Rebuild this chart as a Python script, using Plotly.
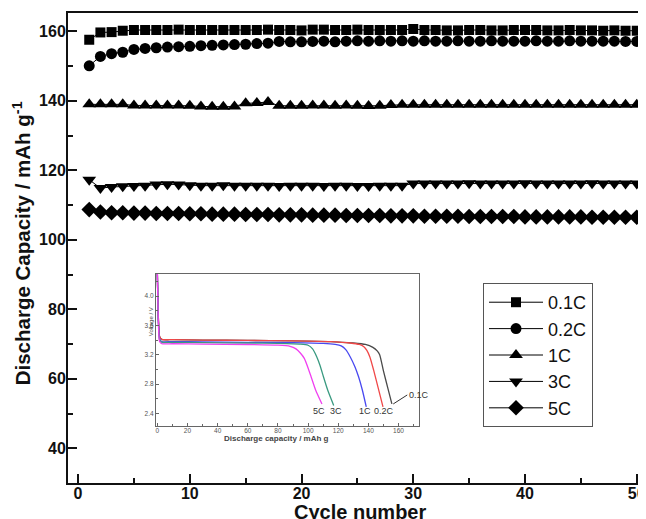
import plotly.graph_objects as go

# ---------------- main data ----------------
cycles = list(range(1, 51))
rate_labels = ["0.1C", "0.2C", "1C", "3C", "5C"]
cap_01C = [157.6, 159.7, 159.8, 160.2, 160.4, 160.4, 160.4, 160.4, 160.5, 160.4,
           160.4, 160.4, 160.4, 160.4, 160.4, 160.4, 160.5, 160.4, 160.4, 160.3,
           160.5, 160.5, 160.4, 160.4, 160.5, 160.4, 160.4, 160.4, 160.4, 160.7,
           160.4, 160.4, 160.3, 160.3, 160.4, 160.4, 160.3, 160.3, 160.4, 160.4,
           160.4, 160.3, 160.3, 160.4, 160.3, 160.3, 160.2, 160.3, 160.2, 160.2]
cap_02C = [150.1, 152.8, 153.6, 154.0, 154.8, 155.1, 155.3, 155.5, 155.6, 155.7,
           155.9, 156.0, 156.1, 156.2, 156.3, 156.5, 156.6, 157.1, 157.0, 157.0,
           157.1, 157.2, 157.0, 157.2, 157.3, 157.2, 157.3, 157.2, 157.3, 157.2,
           157.3, 157.2, 157.2, 157.3, 157.2, 157.2, 157.3, 157.2, 157.2, 157.2,
           157.3, 157.2, 157.2, 157.3, 157.2, 157.2, 157.2, 157.2, 157.1, 157.1]
cap_1C = [139.0, 139.0, 139.0, 139.0, 138.7, 138.7, 138.7, 138.7, 138.7, 138.6,
          138.4, 138.3, 138.3, 138.4, 139.3, 139.4, 139.7, 138.6, 138.6, 138.6,
          138.7, 138.7, 138.6, 138.7, 138.6, 138.5, 138.6, 138.8, 138.9, 138.9,
          138.9, 138.9, 138.9, 138.9, 138.9, 138.9, 138.9, 138.9, 138.9, 138.9,
          138.9, 138.9, 138.9, 138.9, 138.9, 138.9, 138.9, 138.9, 138.9, 138.9]
cap_3C = [117.3, 114.9, 115.2, 115.4, 115.5, 115.6, 115.9, 116.0, 115.9, 115.7,
          115.6, 115.6, 115.7, 115.6, 115.6, 115.6, 115.6, 115.5, 115.6, 115.6,
          115.6, 115.5, 115.6, 115.6, 115.5, 115.5, 115.6, 115.6, 115.6, 116.2,
          116.2, 116.2, 116.2, 116.2, 116.3, 116.2, 116.2, 116.2, 116.2, 116.3,
          116.2, 116.2, 116.2, 116.2, 116.2, 116.3, 116.2, 116.2, 116.2, 116.2]
cap_5C = [108.7, 108.0, 107.8, 107.8, 107.7, 107.7, 107.6, 107.6, 107.6, 107.5,
          107.5, 107.4, 107.4, 107.4, 107.3, 107.3, 107.3, 107.2, 107.2, 107.2,
          107.1, 107.1, 107.1, 107.0, 107.0, 107.0, 107.0, 106.9, 106.9, 106.9,
          106.8, 106.8, 106.8, 106.8, 106.7, 106.7, 106.7, 106.7, 106.7, 106.6,
          106.6, 106.6, 106.6, 106.6, 106.6, 106.5, 106.5, 106.5, 106.5, 106.5]
main_series = [cap_01C, cap_02C, cap_1C, cap_3C, cap_5C]
symbols = ["square", "circle", "triangle-up", "triangle-down", "diamond"]
marker_sizes = [10, 11, 12, 12, 12]

x_ticks = [0, 10, 20, 30, 40, 50]
y_ticks = [40, 60, 80, 100, 120, 140, 160]

# ---------------- inset data ----------------
inset_caps = {
    "0.1C": [0, 0.3, 0.8, 1.5, 3, 10, 30, 60, 90, 115, 130, 138, 143, 146, 147.5, 150, 153, 155.6],
    "0.2C": [0, 0.3, 0.8, 1.5, 3, 10, 30, 60, 90, 115, 128, 134, 137, 139, 141, 143.5, 146.5, 149.7],
    "1C":   [0, 0.3, 0.8, 1.5, 3, 10, 30, 60, 90, 110, 118, 122, 125, 128, 131, 133.5, 136, 138.6],
    "3C":   [0, 0.3, 0.8, 1.5, 3, 10, 30, 60, 80, 95, 100, 103, 105.8, 108, 110.2, 113, 117],
    "5C":   [0, 0.3, 0.8, 1.5, 3, 10, 30, 60, 80, 88, 92, 95, 97.5, 100, 102, 105, 109.2],
}
inset_volts = {
    "0.1C": [4.32, 4.0, 3.65, 3.45, 3.41, 3.405, 3.40, 3.395, 3.39, 3.38, 3.36, 3.34, 3.30, 3.25, 3.20, 2.98, 2.74, 2.53],
    "0.2C": [4.32, 4.0, 3.65, 3.45, 3.41, 3.405, 3.40, 3.395, 3.39, 3.38, 3.36, 3.34, 3.31, 3.26, 3.17, 2.99, 2.75, 2.49],
    "1C":   [4.32, 4.0, 3.62, 3.42, 3.38, 3.38, 3.375, 3.37, 3.365, 3.355, 3.34, 3.32, 3.27, 3.17, 3.04, 2.9, 2.72, 2.49],
    "3C":   [4.32, 4.0, 3.6, 3.4, 3.37, 3.37, 3.365, 3.36, 3.355, 3.345, 3.33, 3.28, 3.17, 3.05, 2.9, 2.72, 2.51],
    "5C":   [4.32, 4.0, 3.58, 3.38, 3.35, 3.35, 3.345, 3.34, 3.33, 3.315, 3.28, 3.22, 3.15, 3.02, 2.9, 2.72, 2.53],
}
inset_colors = {"0.1C": "#4a4a4a", "0.2C": "#f04848", "1C": "#4848f0", "3C": "#3a9a80", "5C": "#f040f0"}
inset_label_pos = {"5C": (107.5, 2.44), "3C": (118.5, 2.44), "1C": (137.5, 2.44), "0.2C": (150.5, 2.44)}
inset_x_ticks = [0, 20, 40, 60, 80, 100, 120, 140, 160]
inset_y_ticks = [2.4, 2.8, 3.2, 3.6, 4.0]

FONT = "Liberation Sans"

fig = go.Figure()
for name, vals, sym, ms in zip(rate_labels, main_series, symbols, marker_sizes):
    fig.add_trace(go.Scatter(
        x=cycles, y=vals, name=name, mode="lines+markers",
        line=dict(color="black", width=1),
        marker=dict(symbol=sym, size=ms, color="black"),
    ))

for name in rate_labels:
    fig.add_trace(go.Scatter(
        x=inset_caps[name], y=inset_volts[name], mode="lines",
        line=dict(color=inset_colors[name], width=1.3, shape="spline", smoothing=0.6),
        xaxis="x2", yaxis="y2", showlegend=False, hoverinfo="skip",
    ))

annotations = []
for name, (lx, ly) in inset_label_pos.items():
    annotations.append(dict(x=lx, y=ly, xref="x2", yref="y2", text=name, showarrow=False,
                            font=dict(family=FONT, size=9, color="#333")))
annotations.append(dict(x=156.5, y=2.53, xref="x2", yref="y2", text="0.1C", showarrow=True,
                        ax=14, ay=-9, axref="pixel", ayref="pixel", arrowhead=0, arrowwidth=1,
                        arrowcolor="#333", xanchor="left",
                        font=dict(family=FONT, size=9, color="#333")))
annotations.append(dict(x=0.36, y=0.095, xref="paper", yref="paper", yanchor="middle",
                        text="<b>Discharge capacity / mAh g</b>", showarrow=False,
                        font=dict(family=FONT, size=8, color="#444")))
annotations.append(dict(x=0.134, y=0.343, xref="paper", yref="paper", textangle=-90,
                        text="Voltage / V", showarrow=False,
                        font=dict(family=FONT, size=6, color="#444")))
annotations.append(dict(x=0.505, y=-0.062, xref="paper", yref="paper", yanchor="middle",
                        text="<b>Cycle number</b>", showarrow=False,
                        font=dict(family=FONT, size=20, color="#111")))
annotations.append(dict(x=-0.0796, y=0.51, xref="paper", yref="paper", xanchor="center",
                        yanchor="middle", textangle=-90,
                        text="<b>Discharge Capacity / mAh g<sup>-1</sup></b>", showarrow=False,
                        font=dict(family=FONT, size=20.5, color="#111")))

# page body has an 8 px margin, so the figure is offset by 8 px on screen
fig.update_layout(
    width=646, height=519,
    margin=dict(l=60, r=8, t=5, b=44),
    paper_bgcolor="white", plot_bgcolor="white",
    showlegend=True,
    legend=dict(x=0.718, y=0.4255, xanchor="left", yanchor="top",
                bordercolor="#555", borderwidth=1, bgcolor="white",
                font=dict(family=FONT, size=18, color="#111"),
                itemwidth=54, tracegroupgap=0),
    xaxis=dict(range=[-0.9, 50.83], tickvals=x_ticks, ticks="inside", ticklen=9, tickwidth=1.5,
               tickcolor="#111", showline=True, linecolor="#111", linewidth=2, mirror=True,
               showgrid=False, zeroline=False, ticklabelstandoff=-5,
               minor=dict(ticks="inside", ticklen=5, dtick=5, tick0=0, tickcolor="#111", tickwidth=1.5),
               tickfont=dict(family=FONT, size=16, color="#111", weight="bold"),
               automargin=False),
    yaxis=dict(range=[30, 165.3], tickvals=y_ticks, ticks="inside", ticklen=9, tickwidth=1.5,
               tickcolor="#111", showline=True, linecolor="#111", linewidth=2,
               showgrid=False, zeroline=False, ticklabelstandoff=-3,
               minor=dict(ticks="inside", ticklen=5, dtick=10, tick0=30, tickcolor="#111", tickwidth=1.5),
               tickfont=dict(family=FONT, size=16, color="#111", weight="bold"),
               automargin=False),
    xaxis2=dict(domain=[0.1522, 0.6073], anchor="y2", range=[-0.9, 173.6], tickvals=inset_x_ticks,
                ticks="inside", ticklen=3, tickcolor="#666", showline=True, linecolor="#666",
                linewidth=1, mirror=True, showgrid=False, zeroline=False, ticklabelstandoff=-2,
                minor=dict(ticks="inside", ticklen=2, dtick=10, tick0=0, tickcolor="#666"),
                tickfont=dict(family=FONT, size=6.5, color="#555"), automargin=False),
    yaxis2=dict(domain=[0.1213, 0.4447], anchor="x2", range=[2.23, 4.3], tickvals=inset_y_ticks,
                tickformat=".1f",
                ticks="inside", ticklen=3, tickcolor="#666", showline=True, linecolor="#666",
                linewidth=1, mirror=True, showgrid=False, zeroline=False,
                minor=dict(ticks="inside", ticklen=2, dtick=0.2, tick0=2.4, tickcolor="#666"),
                tickfont=dict(family=FONT, size=6.5, color="#555"), automargin=False),
    annotations=annotations,
)

fig.write_html("out.html")
